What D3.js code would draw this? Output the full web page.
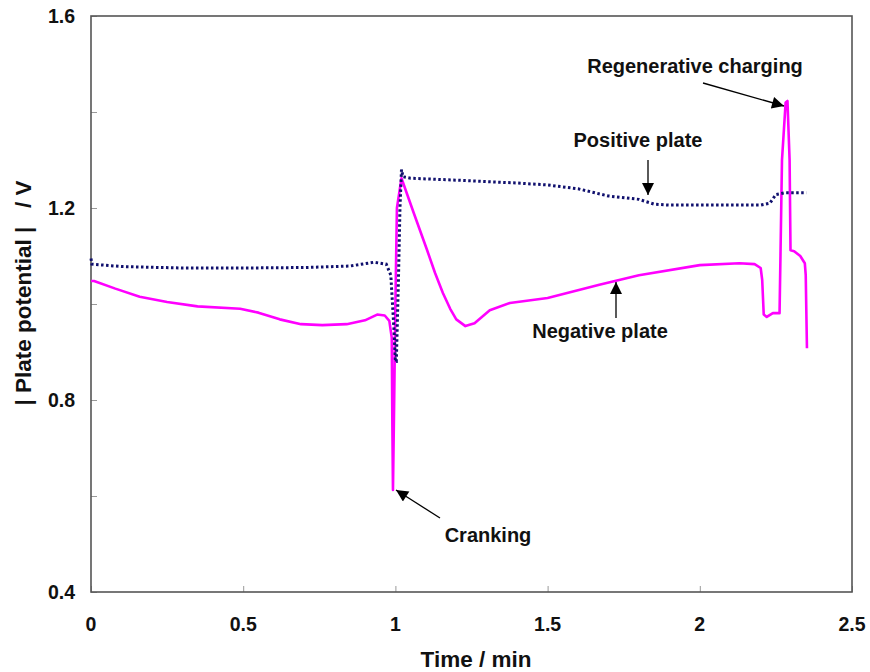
<!DOCTYPE html>
<html><head><meta charset="utf-8">
<script src="https://cdn.jsdelivr.net/npm/d3@7"></script>
<style>body{margin:0;background:#fff;} svg{display:block;} text{font-family:"Liberation Sans",Arial,sans-serif;font-weight:bold;fill:#111;}</style>
</head><body>
<svg id="c" width="870" height="672"></svg>
<script>
const xTicks = [0, 0.5, 1, 1.5, 2, 2.5];
const xTickLabels = ["0", "0.5", "1", "1.5", "2", "2.5"];
const yTicks = [0.4, 0.6, 0.8, 1.0, 1.2, 1.4, 1.6];
const yTickLabels = ["0.4", "", "0.8", "", "1.2", "", "1.6"];

const positiveTime = [0,0.003,0.1,0.3,0.5,0.7,0.85,0.93,0.97,0.985,0.995,1.0,1.003,1.01,1.015,1.02,1.025,1.05,1.2,1.4,1.5,1.6,1.7,1.8,1.85,1.9,2.0,2.2,2.23,2.25,2.28,2.35];
const positiveV    = [1.095,1.083,1.078,1.075,1.075,1.076,1.079,1.087,1.083,1.06,0.95,0.88,0.88,1.05,1.2,1.28,1.265,1.262,1.258,1.252,1.248,1.24,1.225,1.218,1.208,1.206,1.206,1.206,1.21,1.228,1.232,1.232];

const negativeTime = [0,0.01,0.08,0.16,0.25,0.35,0.49,0.55,0.62,0.69,0.76,0.84,0.9,0.94,0.965,0.98,0.988,0.99,0.992,0.996,1.0,1.005,1.02,1.06,1.104,1.13,1.156,1.18,1.2,1.23,1.26,1.31,1.376,1.5,1.67,1.8,2.0,2.13,2.18,2.2,2.205,2.21,2.22,2.24,2.262,2.265,2.27,2.282,2.288,2.295,2.298,2.31,2.33,2.345,2.348,2.352];
const negativeV    = [1.048,1.048,1.032,1.015,1.004,0.995,0.99,0.982,0.968,0.958,0.956,0.958,0.966,0.978,0.976,0.965,0.93,0.75,0.6125,0.8,1.0,1.2,1.262,1.19,1.1125,1.065,1.023,0.99,0.968,0.954,0.96,0.987,1.002,1.0125,1.04,1.06,1.081,1.085,1.083,1.075,1.05,0.978,0.973,0.981,0.981,1.1,1.3,1.42,1.423,1.3,1.112,1.11,1.1,1.085,1.06,0.908];

const annotations = [
  {text:"Regenerative charging", tx:695, ty:73, x1:703, y1:83, x2:784, y2:106},
  {text:"Positive plate", tx:638, ty:147, x1:648, y1:160, x2:648, y2:195},
  {text:"Negative plate", tx:600, ty:338, x1:616, y1:318, x2:616, y2:282},
  {text:"Cranking", tx:488, ty:542, x1:440, y1:518, x2:396, y2:490}
];

const svg = d3.select("#c");
const L = 91, R = 852, T = 16, B = 592;
const x = d3.scaleLinear().domain([0, 2.5]).range([L, R]);
const y = d3.scaleLinear().domain([0.4, 1.6]).range([B, T]);

svg.append("defs").append("marker").attr("id","ah").attr("viewBox","0 0 10 10")
  .attr("refX",10).attr("refY",5).attr("markerWidth",14).attr("markerHeight",12)
  .attr("markerUnits","userSpaceOnUse").attr("orient","auto")
  .append("path").attr("d","M0,0L10,5L0,10Z").attr("fill","#000");

const xAx = svg.append("g").attr("transform",`translate(0,${B})`)
  .call(d3.axisTop(x).tickValues(xTicks).tickSize(6).tickFormat(""));
xAx.select(".domain").remove();
xAx.selectAll("line").attr("stroke","#999");
const yAx = svg.append("g").attr("transform",`translate(${L},0)`)
  .call(d3.axisRight(y).tickValues(yTicks).tickSize(6).tickFormat(""));
yAx.select(".domain").remove();
yAx.selectAll("line").attr("stroke","#999");

svg.append("rect").attr("x",L).attr("y",T).attr("width",R-L).attr("height",B-T)
  .attr("fill","none").attr("stroke","#555").attr("stroke-width",1.6);

svg.append("g").selectAll("text").data(xTicks).join("text")
  .attr("x",d=>x(d)).attr("y",B+39).attr("text-anchor","middle")
  .attr("font-size",19.5).text((d,i)=>xTickLabels[i]);
svg.append("g").selectAll("text").data(yTicks).join("text")
  .attr("x",L-16).attr("y",d=>y(d)+7).attr("text-anchor","end")
  .attr("font-size",19.5).text((d,i)=>yTickLabels[i]);

svg.append("text").attr("x",476).attr("y",667).attr("text-anchor","middle")
  .attr("font-size",22.5).text("Time / min");
svg.append("text").attr("transform","translate(31,293) rotate(-90)")
  .attr("text-anchor","middle").attr("font-size",22.5).attr("xml:space","preserve")
  .text("| Plate potential |   / V");

const line = d3.line().x(d=>x(d[0])).y(d=>y(d[1]));
const neg = negativeTime.map((t,i)=>[t,negativeV[i]]);
const pos = positiveTime.map((t,i)=>[t,positiveV[i]]);

svg.append("path").datum(neg).attr("d",line).attr("fill","none")
  .attr("stroke","#ff00ff").attr("stroke-width",2.6).attr("stroke-linejoin","round");
svg.append("path").datum(pos).attr("d",line).attr("fill","none")
  .attr("stroke","#10106e").attr("stroke-width",3).attr("stroke-dasharray","2.5,2.5");

const ag = svg.append("g");
annotations.forEach(a=>{
  ag.append("text").attr("x",a.tx).attr("y",a.ty).attr("text-anchor","middle")
    .attr("font-size",20).text(a.text);
  ag.append("line").attr("x1",a.x1).attr("y1",a.y1).attr("x2",a.x2).attr("y2",a.y2)
    .attr("stroke","#000").attr("stroke-width",1.3).attr("marker-end","url(#ah)");
});
</script>
</body></html>
